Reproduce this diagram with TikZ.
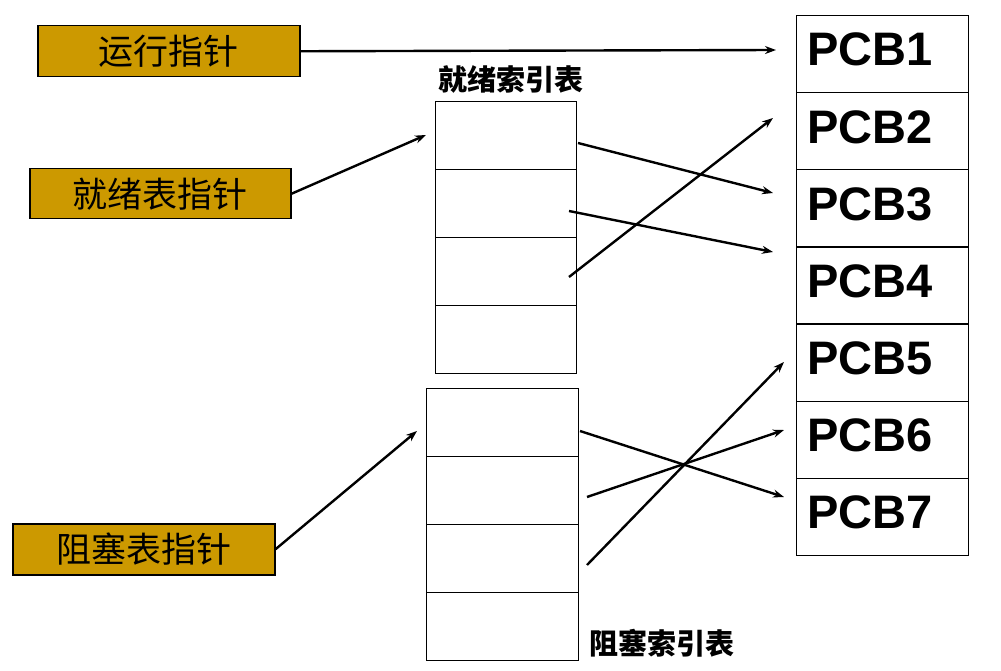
\documentclass[tikz,border=0pt]{standalone}
\usepackage{fontspec}
\setmainfont{Liberation Sans}
\newfontfamily\cjk{Noto Sans CJK SC}
\usetikzlibrary{arrows.meta}
\definecolor{gold}{HTML}{CC9900}
\begin{document}
\begin{tikzpicture}[x=1pt,y=-1pt,
  ptrbox/.style={draw=black,line width=1.5pt,fill=gold,inner sep=0pt,anchor=north west,
    font=\cjk\fontsize{35}{35}\selectfont},
  cell/.style={draw=black,line width=1.3pt,fill=white,inner sep=0pt,anchor=north west},
  pcbcell/.style={cell,minimum width=172pt,minimum height=77.1pt},
  pcbtext/.style={anchor=base west,inner sep=0pt,font=\bfseries\fontsize{47}{47}\selectfont},
  title/.style={font=\cjk\bfseries\fontsize{29}{29}\selectfont,inner sep=0pt},
  link/.style={line width=2.4pt,-{Stealth[length=11pt,width=8pt]}}]
\useasboundingbox (0,0) rectangle (1001,671);

% pointer boxes
\node[ptrbox,minimum width=262pt,minimum height=51pt] (run) at (37,25) {运行指针};
\node[ptrbox,minimum width=261pt,minimum height=50pt] (ready) at (29,168) {就绪表指针};
\node[ptrbox,minimum width=262pt,minimum height=51pt] (block) at (12,523) {阻塞表指针};

% ready index table
\foreach \i in {0,...,3}
  \node[cell,minimum width=141pt,minimum height=68pt] (r\i) at (435,101+68*\i) {};
\node[title] (rtitle) at (511,79) {就绪索引表};

% blocked index table
\foreach \i in {0,...,3}
  \node[cell,minimum width=152pt,minimum height=68pt] (b\i) at (426,388+68*\i) {};
\node[title,anchor=west] (btitle) at (589,643) {阻塞索引表};

% PCB column with its labels
\foreach \i in {1,...,7}{
  \node[pcbcell] (p\i) at (796,15+77.1*\i-77.1) {};
  \node[pcbtext] (t\i) at (807,66+77.1*\i-77.1) {PCB\i};
}

% arrow end points beside the PCB column
\coordinate (e1) at (776,50);
\coordinate (e2) at (773,118);
\coordinate (e3) at (773,193);
\coordinate (e4) at (773,252);
\coordinate (e5) at (784,362);
\coordinate (e6) at (784,430);
\coordinate (e7) at (784,497);
\coordinate (rin) at (426,135);
\coordinate (bin) at (417,431);

% arrow start points inside the tables
\coordinate (s3) at (578,143);
\coordinate (s4) at (569,211);
\coordinate (s2) at (569,277);
\coordinate (s7) at (580,431);
\coordinate (s6) at (587,497);
\coordinate (s5) at (587,565);

\draw[link] (run.east) -- (e1);
\draw[link] (ready.east) -- (rin);
\draw[link] (block.east) -- (bin);
\draw[link] (s3) -- (e3);
\draw[link] (s4) -- (e4);
\draw[link] (s2) -- (e2);
\draw[link] (s7) -- (e7);
\draw[link] (s6) -- (e6);
\draw[link] (s5) -- (e5);
\end{tikzpicture}
\end{document}
